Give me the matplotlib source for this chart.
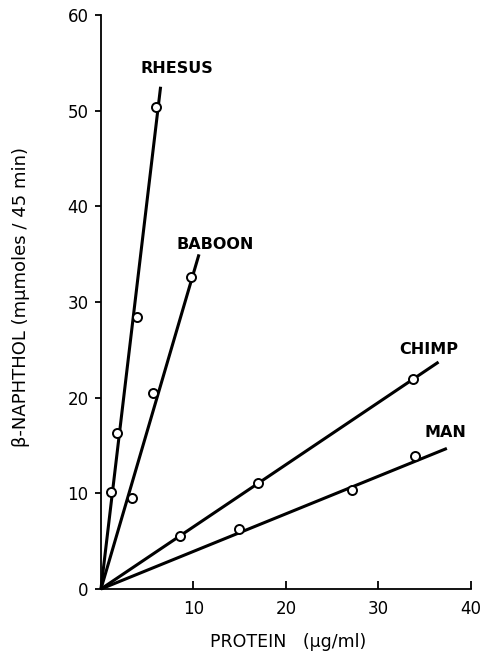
import numpy as np
from matplotlib import pyplot as plt

# species data
species = ['RHESUS', 'BABOON', 'CHIMP', 'MAN']
rhesus_x = [1.1, 1.75, 3.9, 5.95]
rhesus_y = [10.1, 16.3, 28.4, 50.4]
baboon_x = [3.4, 5.65, 9.7]
baboon_y = [9.5, 20.5, 32.6]
chimp_x = [8.5, 17.0, 33.7]
chimp_y = [5.5, 11.1, 22.0]
man_x = [14.9, 27.1, 34.0]
man_y = [6.3, 10.4, 13.9]

# fitted lines through the origin: slope and x extent
slopes = [8.14, 3.3, 0.65, 0.393]
line_xmax = [6.45, 10.6, 36.5, 37.4]

# label anchors (data coords)
label_x = [8.2, 12.3, 35.4, 37.2]
label_y = [54.4, 36.0, 25.0, 16.4]

xs = [rhesus_x, baboon_x, chimp_x, man_x]
ys = [rhesus_y, baboon_y, chimp_y, man_y]

plt.rcParams['font.family'] = ['DejaVu Sans']

fig = plt.figure(figsize=(4.83, 6.53), dpi=100)
ax = fig.add_axes([0.209, 0.098, 0.766, 0.879])

for i in range(len(species)):
    lx = np.array([0, line_xmax[i]])
    ax.plot(lx, slopes[i] * lx, color='black', lw=2.2, solid_capstyle='butt', clip_on=False)
    ax.plot(xs[i], ys[i], 'o', mfc='white', mec='black', ms=6.5, mew=1.4, clip_on=False)
    ax.text(label_x[i], label_y[i], species[i], ha='center', va='center',
            fontsize=11.5, fontweight='bold')

ax.set_xlim(0, 40)
ax.set_ylim(0, 60)
ax.set_xticks([10, 20, 30, 40])
ax.set_yticks(range(0, 61, 10))
ax.spines['top'].set_visible(False)
ax.spines['right'].set_visible(False)
for s in ['left', 'bottom']:
    ax.spines[s].set_linewidth(1.3)
ax.tick_params(axis='x', direction='in', length=6, width=1.3, labelsize=12, pad=8)
ax.tick_params(axis='y', direction='out', length=4, width=1.3, labelsize=12, pad=5)

ax.set_xlabel('PROTEIN   (μg/ml)', fontsize=12.5)
ax.xaxis.set_label_coords(0.507, -0.077)
ax.set_ylabel('β-NAPHTHOL (mμmoles / 45 min)', fontsize=13)
ax.yaxis.set_label_coords(-0.192, 0.509)

fig.savefig('out.png', dpi=100)
